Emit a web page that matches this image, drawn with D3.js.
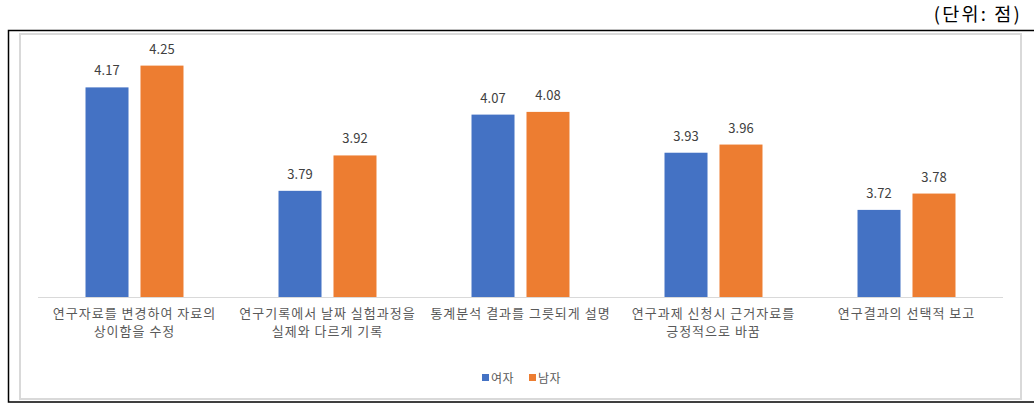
<!DOCTYPE html>
<html>
<head>
<meta charset="utf-8">
<script src="https://cdn.jsdelivr.net/npm/d3@7"></script>
<style>
  html, body { margin: 0; padding: 0; background: #fff; }
  svg { display: block; font-family: "Noto Sans CJK KR", "Noto Sans", sans-serif; }
</style>
</head>
<body>
<div id="chart"></div>
<script>
// categories (line breaks as in the original wrapping)
const categories = [
  '연구자료를 변경하여 자료의\n상이함을 수정',
  '연구기록에서 날짜 실험과정을\n실제와 다르게 기록',
  '통계분석 결과를 그릇되게 설명',
  '연구과제 신청시 근거자료를\n긍정적으로 바꿈',
  '연구결과의 선택적 보고'
];
const seriesNames = ['여자', '남자'];
const female = [4.17, 3.79, 4.07, 3.93, 3.72];
const male = [4.25, 3.92, 4.08, 3.96, 3.78];
const unitLabel = '(단위: 점)';

const colours = { '여자': '#4472C4', '남자': '#ED7D31' };

const W = 1034, H = 410;
const svg = d3.select('#chart').append('svg').attr('width', W).attr('height', H);

// frame
svg.append('rect')
  .attr('x', 8.5).attr('y', 30.5).attr('width', 1030).attr('height', 371.5)
  .attr('fill', 'none').attr('stroke', '#000').attr('stroke-width', 1.5);
svg.append('rect')
  .attr('x', 20).attr('y', 34).attr('width', 1001).attr('height', 365)
  .attr('fill', 'none').attr('stroke', '#d9d9d9').attr('stroke-width', 2);

svg.append('text')
  .attr('x', 1022).attr('y', 21)
  .attr('text-anchor', 'end')
  .style('font-size', '18.5px')
  .style('letter-spacing', '2.2px')
  .attr('fill', '#000')
  .text(unitLabel);

const plot = { left: 38, right: 1003, top: 52, bottom: 297 };

const x0 = d3.scaleBand().domain(categories).range([plot.left, plot.right]);
const x1 = d3.scaleBand().domain(seriesNames)
  .range([0, x0.bandwidth()])
  .paddingInner(0.218)
  .paddingOuter(0.864);
const y = d3.scaleLinear().domain([3.4, 4.3]).range([plot.bottom, plot.top]);

const rows = categories.map((c, i) => ({
  cat: c,
  values: [
    { key: '여자', value: female[i] },
    { key: '남자', value: male[i] }
  ]
}));

// x axis line
svg.append('line')
  .attr('x1', plot.left).attr('x2', plot.right)
  .attr('y1', plot.bottom + 0.5).attr('y2', plot.bottom + 0.5)
  .attr('stroke', '#d9d9d9').attr('stroke-width', 1);

const groups = svg.selectAll('.grp')
  .data(rows)
  .enter()
  .append('g')
  .attr('class', 'grp')
  .attr('transform', d => `translate(${x0(d.cat)},0)`);

groups.selectAll('rect')
  .data(d => d.values)
  .enter()
  .append('rect')
  .attr('x', d => x1(d.key))
  .attr('y', d => y(d.value))
  .attr('width', x1.bandwidth())
  .attr('height', d => plot.bottom - y(d.value))
  .attr('fill', d => colours[d.key]);

groups.selectAll('.lbl')
  .data(d => d.values)
  .enter()
  .append('text')
  .attr('class', 'lbl')
  .attr('x', d => x1(d.key) + x1.bandwidth() / 2)
  .attr('y', d => y(d.value) - 12)
  .attr('text-anchor', 'middle')
  .style('font-size', '13px')
  .attr('fill', '#404040')
  .text(d => d.value.toFixed(2));

// category labels
const catLabels = svg.selectAll('.cat')
  .data(categories)
  .enter()
  .append('text')
  .attr('class', 'cat')
  .attr('text-anchor', 'middle')
  .style('font-size', '13px')
  .style('letter-spacing', '1px')
  .attr('fill', '#595959');

catLabels.selectAll('tspan')
  .data(d => d.split('\n').map(line => ({ line, cat: d })))
  .enter()
  .append('tspan')
  .attr('x', d => x0(d.cat) + x0.bandwidth() / 2)
  .attr('y', (d, i) => 318 + i * 18)
  .text(d => d.line);

// legend
const legend = svg.append('g').attr('transform', 'translate(482,378)');
const legendItems = legend.selectAll('g')
  .data(seriesNames)
  .enter()
  .append('g')
  .attr('transform', (d, i) => `translate(${i * 47},0)`);
legendItems.append('rect')
  .attr('x', 0).attr('y', -4)
  .attr('width', 7).attr('height', 7)
  .attr('fill', d => colours[d]);
legendItems.append('text')
  .attr('x', 9).attr('y', 4.5)
  .style('font-size', '12px')
  .style('letter-spacing', '0.5px')
  .attr('fill', '#595959')
  .text(d => d);
</script>
</body>
</html>
